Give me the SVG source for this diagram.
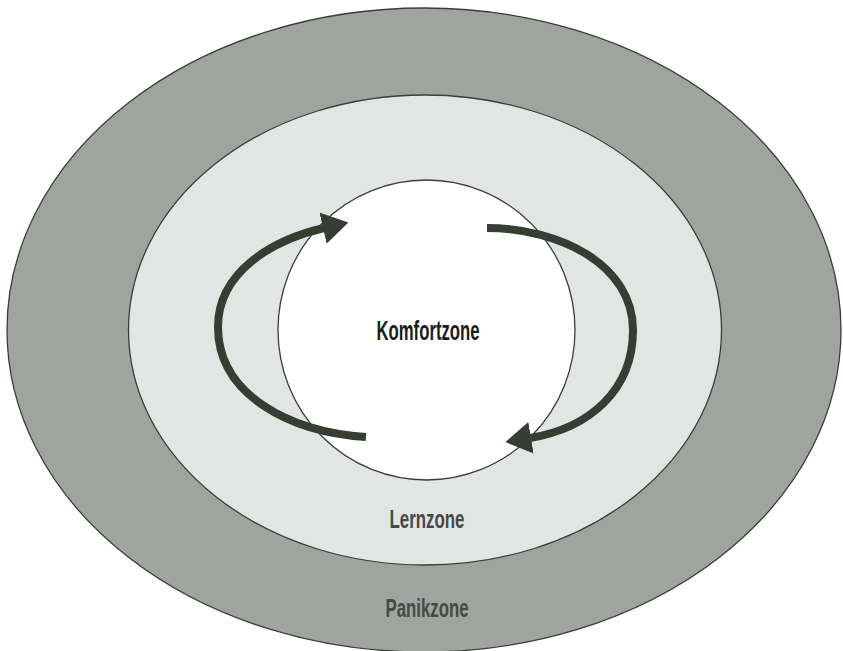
<svg xmlns="http://www.w3.org/2000/svg" width="843" height="651" viewBox="0 0 843 651">
  <style>
    .zone { stroke: #3b3d3a; stroke-width: 1.3; }
    .outer { fill: #9fa59e; }
    .middle { fill: #e3e5e4; }
    .inner { fill: #ffffff; }
    .loop { fill: none; stroke: #363d33; stroke-width: 8; stroke-linecap: butt; marker-end: url(#head); }
    .label { font-family: "Liberation Sans Narrow", "Liberation Sans", Arial, sans-serif; font-weight: bold; text-anchor: middle; }
    .main { fill: #1c1d1c; font-size: 27px; }
    .sub { fill: #464946; font-size: 26px; }
  </style>
  <defs>
    <marker id="head" markerUnits="userSpaceOnUse" viewBox="0 0 26 32" markerWidth="26" markerHeight="32" refX="1" refY="16" orient="auto">
      <path d="M0,0 L26,16 L0,32 Z" fill="#363d33"/>
    </marker>
  </defs>

  <rect width="843" height="651" fill="#ffffff"/>

  <g id="panikzone">
    <ellipse class="zone outer" cx="424" cy="330" rx="417" ry="322"/>
    <text class="label sub" x="427" y="617" textLength="83" lengthAdjust="spacingAndGlyphs">Panikzone</text>
  </g>

  <g id="lernzone">
    <ellipse class="zone middle" cx="425" cy="330" rx="296.5" ry="235"/>
    <text class="label sub" x="427" y="528" textLength="75" lengthAdjust="spacingAndGlyphs">Lernzone</text>
  </g>

  <g id="komfortzone">
    <ellipse class="zone inner" cx="426.5" cy="330" rx="148.5" ry="150"/>
    <text class="label main" x="428" y="340" textLength="103" lengthAdjust="spacingAndGlyphs">Komfortzone</text>
  </g>

  <g id="connectors">
    <!-- left loop: out of the comfort zone and back in at the top -->
    <path class="loop" d="M366,437 C290,432 218,395 218,327 C218,272 272,240 324,228"/>
    <!-- right loop: out at the top, back in at the bottom -->
    <path class="loop" d="M487,228 C560,228 633,265 633,330 C633,390 590,428 530,438"/>
  </g>
</svg>
